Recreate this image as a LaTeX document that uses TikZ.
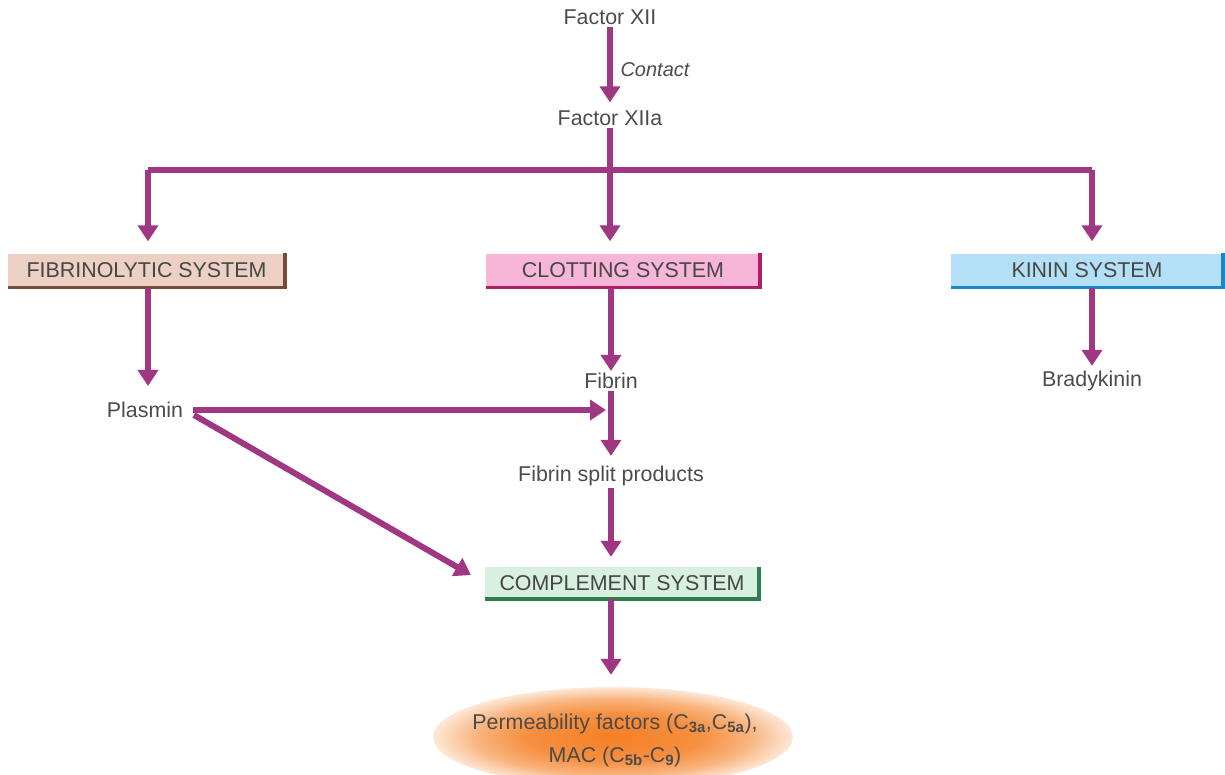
\documentclass[tikz,border=0pt]{standalone}
\usepackage{fontspec}
\setmainfont{Liberation Sans}
\usetikzlibrary{arrows.meta,shapes.geometric,calc}
\definecolor{arrowc}{RGB}{160,55,130}
\definecolor{txt}{RGB}{75,75,75}
\definecolor{boxtxt}{RGB}{70,70,70}
\definecolor{fibfill}{RGB}{236,208,196}
\definecolor{fibline}{RGB}{120,75,55}
\definecolor{clotfill}{RGB}{247,182,216}
\definecolor{clotline}{RGB}{176,28,102}
\definecolor{kinfill}{RGB}{180,224,247}
\definecolor{kinline}{RGB}{27,135,200}
\definecolor{compfill}{RGB}{216,240,223}
\definecolor{compline}{RGB}{47,125,78}
\definecolor{orin}{RGB}{245,128,38}
\definecolor{orout}{RGB}{253,232,215}
\pgfdeclareradialshading{orshade}{\pgfpoint{0bp}{0bp}}{color(0bp)=(orin); color(12bp)=(orin!85!orout); color(19bp)=(orin!50!orout); color(25bp)=(orout); color(50bp)=(orout)}
\begin{document}
\begin{tikzpicture}[x=1pt,y=-1pt,
  lbl/.style={font=\fontsize{21.4}{25}\selectfont, text=txt, inner sep=2pt},
  arr/.style={draw=arrowc, line width=6pt, -{Triangle[length=16pt,width=20pt]}},
  ln/.style={draw=arrowc, line width=6pt},
  sysbox/.style={rectangle, minimum height=34pt, inner sep=0pt, font=\fontsize{21.4}{25}\selectfont, text=boxtxt},
  edge3d/.style={line width=3.5pt}]
\useasboundingbox (0,0) rectangle (1225,774);

% top
\node[lbl] (f12) at (610,17) {Factor XII};
\node[lbl] (f12a) at (610,118) {Factor XIIa};
\node[lbl, font=\fontsize{20}{24}\selectfont\itshape] (contact) at (655,70) {Contact};
\draw[arr, shorten >=6pt] (f12) -- (f12a);

% branch
\coordinate (j) at (610,170);
\coordinate (jl) at (148,170);
\coordinate (jr) at (1092,170);

% system boxes
\node[sysbox, fill=fibfill, minimum width=277pt] (fibro) at (146.5,270.5) {FIBRINOLYTIC SYSTEM};
\draw[edge3d, fibline] (fibro.south west) -- (fibro.south east) -- (fibro.north east);
\node[sysbox, fill=clotfill, minimum width=274pt] (clot) at (623,270.5) {CLOTTING SYSTEM};
\draw[edge3d, clotline] (clot.south west) -- (clot.south east) -- (clot.north east);
\node[sysbox, fill=kinfill, minimum width=272pt] (kinin) at (1087,270.5) {KININ SYSTEM};
\draw[edge3d, kinline] (kinin.south west) -- (kinin.south east) -- (kinin.north east);
\node[sysbox, fill=compfill, minimum width=274pt, minimum height=32pt] (comp) at (622,583) {COMPLEMENT SYSTEM};
\draw[edge3d, compline] (comp.south west) -- (comp.south east) -- (comp.north east);

\draw[ln] (f12a) -- (j);
\draw[ln] (jl) -- (jr);
\draw[arr, shorten >=12pt] (jl) -- (jl |- fibro.north);
\draw[arr, shorten >=12pt] (j) -- (j |- clot.north);
\draw[arr, shorten >=12pt] (jr) -- (jr |- kinin.north);

% products
\node[lbl] (plasmin) at (145,410) {Plasmin};
\node[lbl] (fibrin) at (611,381) {Fibrin};
\node[lbl] (brady) at (1092,381) {Bradykinin};
\node[lbl] (split) at (611,476) {Fibrin split products};
\coordinate (fv) at (606,410);

\draw[arr, shorten >=14pt] (jl |- fibro.south) -- (jl |- plasmin.north);
\draw[arr] (fibrin.north |- clot.south) -- (fibrin);
\draw[arr, shorten >=3pt] (jr |- kinin.south) -- (brady);
\draw[arr, shorten >=8pt] (fibrin) -- (split);
\draw[arr, shorten >=10pt] (split) -- (split |- comp.north);
\draw[arr, shorten <=8pt] (plasmin.east) -- (fv);
\draw[arr, shorten <=10pt, shorten >=16pt] (plasmin.east) -- (comp.west);

% ellipse
\node[ellipse, minimum width=360pt, minimum height=100pt, inner sep=0pt,
      shading=orshade] (perm) at (613,737) {};
\node[font=\fontsize{21.4}{33}\selectfont, text=txt, align=center, inner sep=0pt] (permtxt) at (615,740)
  {Permeability factors (C\textsubscript{\bfseries 3a},C\textsubscript{\bfseries 5a}),\\MAC (C\textsubscript{\bfseries 5b}-C\textsubscript{\bfseries 9})};
\draw[arr, shorten >=12pt] (split |- comp.south) -- (split |- perm.north);
\end{tikzpicture}
\end{document}
